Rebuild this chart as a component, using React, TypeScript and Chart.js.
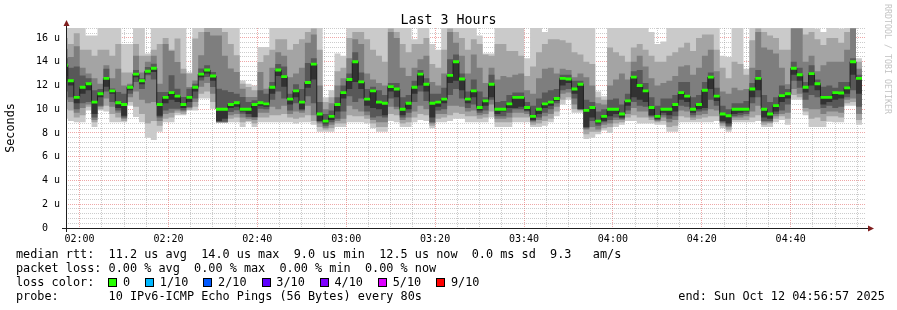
import React, { useEffect, useRef } from 'react';
import { Chart, registerables } from 'chart.js';

Chart.register(...registerables);

// ---------- data (seconds since window start 01:56:57, 80 s probe step) ----------
const WINDOW_START = '01:56:57';
const WINDOW_SPAN = 10800; // 3 hours
const STEP = 80;
const FIRST_OFFSET = -55; // first sample started before the window

// ping ranks (10 pings sorted), p6 == median
const p1 = [9.2,9.0,8.9,8.9,9.9,8.5,9.9,9.8,8.9,8.9, 8.9,10.3,9.35,8.9,7.6,7.4,8.1,8.9,8.9,9.5, 9.5,9.9,9.9,10.9,10.9,10.05,8.85,8.85,8.9,8.9, 8.5,8.9,8.5,8.9,8.9,8.9,8.9,8.9,8.9,8.8, 8.9,8.9,8.7,8.1,8.1,8.1,8.5,8.5,8.9,8.9, 8.9,8.8,8.4,8.1,8.1,9.0,8.9,8.5,8.5,8.9, 9.1,9.0,8.4,8.9,8.9,9.0,9.2,9.2,8.9,8.9, 8.9,8.9,9.3,8.5,8.5,8.5,8.9,8.9,8.9,8.5, 8.5,8.6,8.9,9.4,10.4,10.8,9.7,9.7,7.5,7.6, 7.9,8.2,8.0,8.5,8.7,9.0,9.0,8.8,8.8,8.8, 8.7,8.7,8.1,8.1,8.9,8.9,8.9,8.9,8.9,8.9, 9.0,8.4,8.1,8.9,8.9,8.9,8.9,9.0,8.5,8.5, 8.9,9.1,8.7,10.8,10.8,9.5,8.5,8.5,8.5,8.95, 8.9,8.9,10.3,10.3,8.7];
const p2 = [10.0,9.9,9.3,9.5,10.2,8.9,10.0,10.3,9.6,9.3, 9.0,10.6,10.2,9.6,8.8,9.0,8.6,9.2,9.3,9.7, 9.6,9.95,10.2,11.3,11.5,10.6,8.88,8.88,9.2,9.3, 8.9,9.0,8.8,9.3,9.3,9.5,9.5,9.6,9.3,9.2, 9.3,9.5,9.0,8.5,8.3,8.4,8.8,8.8,9.5,9.4, 9.4,9.2,8.8,8.5,8.5,9.6,9.5,8.8,8.9,9.3, 9.6,9.5,8.6,9.2,9.3,9.5,9.7,9.6,9.4,9.4, 9.2,9.3,9.8,8.9,8.9,8.9,9.3,9.3,9.3,8.7, 8.8,9.0,9.2,9.8,10.8,11.0,10.0,9.9,7.9,8.1, 8.1,8.4,8.5,8.8,8.9,9.3,9.5,9.3,9.3,9.1, 8.9,9.0,8.5,8.6,9.4,9.3,9.1,9.2,9.3,9.4, 9.4,8.6,8.3,9.1,9.1,9.1,9.3,9.5,8.7,8.8, 9.2,9.4,9.2,11.2,11.0,9.8,9.2,9.3,9.0,9.4, 9.4,9.3,10.5,10.6,9.1];
const p3 = [10.8,10.6,9.7,10.1,10.4,9.1,10.2,10.9,10.2,9.7, 9.2,11.0,11.5,10.8,10.5,10.6,9.0,9.6,9.7,9.9, 9.8,10.1,10.6,11.9,12.2,11.3,8.9,8.9,9.5,9.6, 9.3,9.2,9.1,9.7,9.7,10.2,10.0,10.3,9.6,9.8, 9.7,10.3,9.5,8.8,8.45,8.7,9.0,9.2,10.3,10.0, 9.8,9.5,9.1,8.9,8.9,10.2,10.0,9.1,9.3,9.8, 10.3,10.0,8.8,9.6,9.6,10.3,10.3,10.2,9.8,9.9, 9.5,9.6,10.4,9.2,9.2,9.3,9.7,9.7,9.6,8.9, 9.1,9.4,9.6,10.2,11.3,11.4,10.4,10.0,8.3,8.5, 8.3,8.7,8.8,9.1,9.1,9.6,10.1,9.8,9.8,9.3, 9.0,9.3,8.9,9.1,9.9,9.8,9.3,9.5,9.6,10.0, 9.9,8.8,8.5,9.3,9.3,9.4,9.8,10.3,8.9,8.9, 9.4,9.6,9.7,11.7,11.3,10.1,10.0,10.0,9.6,9.8, 9.8,9.7,10.8,10.9,9.6];
const p4 = [11.5,11.0,10.0,10.5,10.6,9.3,10.3,11.5,10.6,9.9, 9.3,11.3,12.3,11.7,12.86,12.5,9.3,9.9,10.05,10.05, 9.91,10.19,10.9,12.43,12.72,11.87,8.92,8.95,9.77,9.91, 9.63,9.34,9.3,10.05,10.0,10.8,11.5,10.9,9.9,10.5, 9.9,11.1,10.5,8.95,8.6,8.9,9.2,9.8,11.1,10.6, 10.9,9.8,9.3,9.4,9.3,10.9,10.2,9.3,9.7,10.6, 11.5,10.7,8.9,9.9,10.0,11.2,11.7,10.9,10.1,10.4, 9.7,9.9,10.8,9.4,9.4,9.7,10.0,10.0,9.8,9.0, 9.3,9.7,10.0,10.5,11.6,11.7,10.9,10.0,8.4,9.0, 8.6,8.9,9.1,9.3,9.2,9.9,10.6,10.3,10.2,9.4, 9.1,9.5,9.2,9.4,10.3,10.2,9.5,9.8,9.9,10.8, 10.3,8.9,8.6,9.4,9.5,9.6,10.5,11.0,9.0,9.0, 9.6,9.9,10.4,12.4,11.8,10.8,11.2,11.0,10.1,10.3, 10.1,10.2,11.0,11.6,10.2];
const p5 = [12.8,12.0,10.5,11.3,11.6,9.6,11.0,11.9,11.3,10.1, 9.45,11.6,12.7,12.1,13.0,13.14,9.45,10.5,10.8,10.6, 10.1,10.6,11.5,12.7,13.0,12.4,9.0,9.2,10.1,10.2, 9.8,9.6,9.34,10.3,10.2,11.3,12.8,11.9,10.4,11.0, 10.0,11.8,12.5,9.0,8.8,9.1,9.8,10.9,11.7,12.3, 11.7,10.3,10.1,10.0,9.5,11.5,11.0,9.5,10.0,11.3, 12.0,11.5,9.3,10.2,10.5,12.2,12.4,11.6,10.5,11.0, 9.9,10.3,11.0,9.6,9.8,10.1,10.1,10.2,9.9,9.1, 9.6,10.1,10.3,10.7,12.0,12.2,11.3,10.0,8.5,9.3, 8.8,9.0,9.4,9.6,9.3,10.3,11.0,10.8,10.6,9.5, 9.2,9.7,9.5,9.8,10.8,10.6,9.7,10.0,10.1,11.7, 10.7,9.0,8.8,9.6,9.7,9.8,11.0,11.6,9.3,9.2, 9.8,10.6,10.9,12.9,12.4,11.4,12.0,11.6,10.4,10.6, 10.8,10.9,11.3,12.9,11.3];
const median = [13.7,12.4,11.0,11.85,12.15,10.6,11.3,12.6,11.55,10.55, 10.4,11.85,12.95,12.4,13.2,13.45,10.4,11.0,11.4,11.1, 10.4,11.0,11.85,12.95,13.3,12.8,10.0,10.0,10.4,10.55, 10.0,10.0,10.4,10.55,10.45,11.85,13.3,12.75,10.85,11.55, 10.6,12.25,13.8,9.6,9.0,9.4,10.4,11.4,12.5,14.0, 12.3,10.85,11.55,10.6,10.5,11.9,11.7,10.0,10.5,11.85, 12.95,12.1,10.5,10.6,10.85,12.85,14.0,12.55,10.85,11.55, 10.15,10.7,12.1,10.0,10.0,10.45,11.0,11.0,10.15,9.4, 10.0,10.45,10.6,10.9,12.6,12.55,11.7,12.1,9.9,10.15, 9.0,9.4,10.0,10.0,9.6,10.7,12.7,12.0,11.55,10.15, 9.4,10.0,10.0,10.4,11.4,11.1,10.0,10.4,11.6,12.7, 11.1,9.6,9.45,10.0,10.0,10.0,11.7,12.6,10.0,9.6, 10.3,11.14,11.3,13.45,12.9,11.85,13.0,12.15,11.0,11.0, 11.4,11.37,11.8,14.0,12.6];
const p7 = [14.3,13.5,13.6,12.85,12.6,11.6,11.7,13.4,11.75,11.45, 11.3,12.0,13.3,12.6,13.56,13.84,11.45,11.45,12.86,11.73, 11.03,11.73,12.15,13.42,13.7,13.14,11.73,11.59,11.45,11.31, 11.03,10.61,10.75,11.59,11.31,12.3,13.8,13.6,11.3,12.1, 11.7,13.9,14.3,10.6,9.6,9.9,11.0,12.0,13.0,14.8, 13.1,11.7,11.9,11.6,11.2,12.2,12.2,11.0,11.2,12.4, 13.3,12.6,11.3,11.3,11.8,14.2,14.6,13.0,11.5,12.5, 11.5,11.0,12.9,10.6,10.7,11.2,11.4,11.4,10.6,10.3, 10.9,11.4,11.6,11.7,12.9,12.9,12.4,12.4,10.8,10.6, 9.8,10.0,10.8,10.9,10.4,11.3,13.2,13.3,12.2,11.0, 10.3,10.9,10.9,11.2,12.3,12.3,11.0,11.2,12.3,13.1, 11.8,10.3,10.0,10.5,10.5,10.7,12.2,13.3,11.2,10.6, 11.0,12.0,11.7,14.0,13.5,12.3,13.7,12.5,11.9,12.0, 11.8,12.3,12.3,14.3,12.9];
const p8 = [15.1,14.4,15.3,13.5,13.0,12.6,12.15,13.7,12.6,13.4, 12.0,12.15,14.5,13.1,14.0,14.5,12.15,15.5,14.9,13.98, 13.0,11.87,12.43,14.54,16.5,16.2,16.2,14.5,13.42,13.14, 11.73,11.03,11.03,13.14,11.73,13.5,14.8,14.5,12.7,13.0, 13.5,15.6,16.3,12.0,10.0,10.5,12.0,12.6,14.3,15.9, 15.5,13.0,12.5,12.2,12.0,16.5,16.0,13.5,12.8,13.5, 14.2,14.5,12.3,12.0,13.0,16.5,15.6,14.5,13.0,14.6, 13.5,12.2,13.5,12.5,12.8,12.7,12.9,13.0,11.6,11.3, 12.6,13.4,13.5,13.0,13.4,13.3,12.7,13.0,12.7,12.0, 10.5,10.4,12.0,12.5,13.0,12.5,14.0,14.5,13.6,12.6, 12.0,12.2,12.4,12.8,13.6,13.7,12.9,13.5,14.5,15.0, 13.2,11.5,11.3,11.8,11.6,11.7,13.5,16.5,15.2,15.0, 14.7,13.5,12.1,16.8,16.8,14.0,14.5,13.2,13.7,14.0, 14.0,14.0,15.0,16.8,13.4];
const p9 = [16.0,15.5,16.4,15.0,15.0,14.5,15.0,15.0,14.5,15.5, 13.1,13.1,15.5,14.5,14.5,15.0,15.5,16.0,15.0,15.95, 13.4,13.0,15.95,16.5,16.85,16.85,16.85,16.5,15.5,14.54, 12.15,11.87,11.6,13.98,14.54,15.0,15.9,15.9,15.0,15.5, 15.9,16.5,16.8,15.0,10.6,11.0,13.2,13.5,16.0,16.5, 16.5,15.9,15.0,14.5,14.0,16.8,16.5,15.5,14.8,15.5, 15.5,16.0,13.8,13.5,15.0,16.8,16.5,16.0,15.0,15.9, 15.5,14.6,14.5,15.5,15.5,14.9,14.9,14.5,12.8,13.6, 14.8,15.5,15.9,15.9,15.8,15.6,14.8,14.6,14.0,13.8, 11.0,10.8,15.2,14.8,14.5,14.0,15.2,15.5,15.0,14.5, 14.0,14.0,14.5,14.8,15.2,15.6,14.9,16.0,16.3,16.3, 15.0,13.5,12.6,14.0,13.8,12.9,15.8,16.8,16.5,16.2, 16.0,15.0,15.0,16.85,16.85,16.3,16.5,15.9,15.4,16.0, 16.0,15.6,16.5,16.85,14.0];
const p10 = [16.9,16.9,16.9,16.9,16.2,16.2,16.9,16.9,16.9,16.9, 15.5,15.5,16.9,16.9,14.7,16.9,16.9,16.9,16.9,16.9, 16.9,13.1,16.9,16.9,16.9,16.9,16.9,16.9,16.9,16.9, 12.43,12.15,12.0,15.24,15.24,16.9,16.9,16.9,16.9,16.9, 16.9,16.9,16.9,16.9,11.0,11.6,14.7,14.5,16.9,16.9, 16.9,16.9,16.9,16.9,16.9,16.9,16.9,16.9,16.9,15.9, 16.9,16.9,15.5,15.0,16.9,16.9,16.9,16.9,16.9,16.9, 16.2,14.7,14.7,16.9,16.9,16.9,16.9,16.9,14.3,16.9, 16.9,16.5,16.9,16.9,16.9,16.9,16.9,16.9,16.9,16.9, 11.5,11.1,16.9,16.9,16.9,16.9,16.9,16.9,16.9,16.5, 15.5,15.7,16.9,16.9,16.9,16.9,16.9,16.9,16.9,16.9, 16.9,14.5,14.4,16.9,16.9,13.4,16.9,16.9,16.9,16.9, 16.9,16.9,16.9,16.9,16.9,16.9,16.9,16.8,16.5,16.9, 16.9,16.8,16.9,16.9,14.3];

// ---------- axis / tick labels ----------
const xMajorLabels = ['02:00', '02:20', '02:40', '03:00', '03:20', '03:40', '04:00', '04:20', '04:40'];
const yMax = 16.84;
const yMinorStep = 0.4;
const yMajorStep = 2;
const yUnit = 'u';

// ---------- legend ----------
const rttStats = { avg: '11.2', max: '14.0', min: '9.0', now: '12.5', sd: '0.0', am: '9.3' };
const lossStats = { avg: '0.00', max: '0.00', min: '0.00', now: '0.00' };
const lossLegend: [string, string][] = [
  ['0', '#26ff00'], ['1/10', '#00b8ff'], ['2/10', '#0059ff'], ['3/10', '#5e00ff'],
  ['4/10', '#7e00ff'], ['5/10', '#dd00ff'], ['9/10', '#ff0000'],
];
const probeText = '10 IPv6-ICMP Echo Pings (56 Bytes) every 80s';
const endText = 'Sun Oct 12 04:56:57 2025';
const titleText = 'Last 3 Hours';
const yTitle = 'Seconds';
const watermark = 'RRDTOOL / TOBI OETIKER';

const MONO = '"DejaVu Sans Mono", "Liberation Mono", monospace';
const SMOKE = ['#cacaca', '#a4a4a4', '#7e7e7e', '#585858', '#323232'];
const LOSS0 = lossLegend[0][1];

const toSec = (s: string) => {
  const [h, m, sec] = s.split(':').map(Number);
  return h * 3600 + m * 60 + (sec || 0);
};
const startSec = toSec(WINDOW_START);
const times = median.map((_, i) => Math.max(0, FIRST_OFFSET + STEP * i));
const END_T = FIRST_OFFSET + STEP * median.length;

const series = (arr: number[]) => {
  const pts = arr.map((v, i) => ({ x: times[i], y: v }));
  pts.push({ x: END_T, y: arr[arr.length - 1] });
  return pts;
};

const GREEN_HALF = 0.12;

function buildConfig(): any {
  const lows = [p1, p2, p3, p4, p5];
  const highs = [p10, p9, p8, p7, median];
  const datasets: any[] = [];
  lows.forEach((lo, b) => {
    const ord = 60 - b * 10;
    datasets.push({
      data: series(lo), stepped: true, borderWidth: 0, borderColor: 'rgba(0,0,0,0)',
      pointRadius: 0, fill: false, order: ord,
    });
    datasets.push({
      data: series(highs[b]), stepped: true, borderWidth: 0, borderColor: 'rgba(0,0,0,0)',
      pointRadius: 0, fill: '-1', backgroundColor: SMOKE[b], order: ord,
    });
  });
  datasets.push({
    data: series(median), stepped: true, borderWidth: 1, borderColor: '#202020',
    pointRadius: 0, fill: false, order: 5,
  });
  datasets.push({
    data: series(median.map((v) => v - GREEN_HALF)), stepped: true, borderWidth: 0,
    borderColor: 'rgba(0,0,0,0)', pointRadius: 0, fill: false, order: 0,
  });
  datasets.push({
    data: series(median.map((v) => v + GREEN_HALF)), stepped: true, borderWidth: 0,
    borderColor: 'rgba(0,0,0,0)', pointRadius: 0, fill: '-1', backgroundColor: LOSS0, order: 0,
  });

  const firstMajor = toSec(xMajorLabels[0]) - startSec;
  const isXMajor = (v: number) => Math.abs(((v - firstMajor) % 1200)) < 1e-6;
  const isYMajor = (v: number) => Math.abs(v / yMajorStep - Math.round(v / yMajorStep)) < 1e-6;
  const MAJOR = 'rgba(222,79,79,0.5)';
  const MINOR = 'rgba(143,143,143,0.45)';

  const axesPlugin = {
    id: 'rrdAxes',
    afterDraw(chart: any) {
      const { ctx, chartArea: a } = chart;
      ctx.save();
      ctx.strokeStyle = 'rgb(31,31,31)';
      ctx.lineWidth = 1;
      ctx.beginPath();
      ctx.moveTo(a.left - 4, a.bottom + 0.5);
      ctx.lineTo(a.right + 3, a.bottom + 0.5);
      ctx.moveTo(a.left + 0.5, a.bottom + 4);
      ctx.lineTo(a.left + 0.5, a.top - 4);
      ctx.stroke();
      ctx.fillStyle = 'rgb(128,31,31)';
      ctx.beginPath();
      ctx.moveTo(a.right + 8, a.bottom + 0.5);
      ctx.lineTo(a.right + 2, a.bottom - 2.5);
      ctx.lineTo(a.right + 2, a.bottom + 3.5);
      ctx.closePath();
      ctx.fill();
      ctx.beginPath();
      ctx.moveTo(a.left + 0.5, a.top - 8);
      ctx.lineTo(a.left - 2.5, a.top - 2);
      ctx.lineTo(a.left + 3.5, a.top - 2);
      ctx.closePath();
      ctx.fill();
      ctx.restore();
    },
  };

  return {
    type: 'line',
    data: { datasets },
    plugins: [axesPlugin],
    options: {
      animation: false,
      responsive: false,
      devicePixelRatio: 1,
      events: [],
      layout: { padding: { left: 0, top: 28, right: 31, bottom: 0 } },
      plugins: { legend: { display: false }, tooltip: { enabled: false }, title: { display: false } },
      scales: {
        x: {
          type: 'linear',
          min: 0,
          max: WINDOW_SPAN,
          z: 1,
          afterFit: (s: any) => { s.height = 82; },
          afterBuildTicks: (s: any) => {
            const t: any[] = [];
            for (let v = firstMajor; v <= WINDOW_SPAN; v += 300) t.push({ value: v });
            s.ticks = t;
          },
          ticks: {
            autoSkip: false,
            maxRotation: 0,
            minRotation: 0,
            padding: 5,
            color: '#000',
            font: { family: MONO, size: 10 },
            callback: (v: number) => {
              if (!isXMajor(v)) return '';
              const idx = Math.round((v - firstMajor) / 1200);
              return xMajorLabels[idx] ?? '';
            },
          },
          grid: {
            drawTicks: false,
            lineWidth: 1,
            color: (c: any) => (c.tick ? (isXMajor(c.tick.value) ? MAJOR : MINOR) : 'rgba(0,0,0,0)'),
          },
          border: { display: false, dash: [1, 1] },
        },
        y: {
          type: 'linear',
          min: 0,
          max: yMax,
          z: 1,
          afterFit: (s: any) => { s.width = 66; },
          afterBuildTicks: (s: any) => {
            const t: any[] = [];
            for (let k = 0; k * yMinorStep <= yMax + 1e-9; k++) t.push({ value: Math.round(k * yMinorStep * 10) / 10 });
            s.ticks = t;
          },
          title: {
            display: true,
            text: yTitle,
            color: '#000',
            font: { family: MONO, size: 11.8 },
            padding: { top: 4, bottom: 0 },
          },
          ticks: {
            autoSkip: false,
            padding: 6,
            color: '#000',
            font: { family: MONO, size: 10 },
            callback: (v: number) => {
              if (!isYMajor(v)) return '';
              return v === 0 ? '0  ' : `${v} ${yUnit}`;
            },
          },
          grid: {
            drawTicks: false,
            lineWidth: 1,
            color: (c: any) => (c.tick ? (isYMajor(c.tick.value) ? MAJOR : MINOR) : 'rgba(0,0,0,0)'),
          },
          border: { display: false, dash: [1, 1] },
        },
      },
    },
  };
}

const CH = 7.13; // monospace advance at 11.84px

export default function App() {
  const ref = useRef<HTMLCanvasElement | null>(null);
  useEffect(() => {
    if (!ref.current) return;
    const chart = new Chart(ref.current, buildConfig());
    return () => chart.destroy();
  }, []);

  const rowStyle = (top: number): React.CSSProperties => ({
    position: 'absolute', left: 16, top, fontSize: 11.84, lineHeight: '14px', whiteSpace: 'pre', color: '#000',
  });

  const row1 = `median rtt:  ${rttStats.avg} us avg  ${rttStats.max} us max  ${rttStats.min} us min  ${rttStats.now} us now  ${rttStats.sd} ms sd  ${rttStats.am}   am/s`;
  const row2 = `packet loss: ${lossStats.avg} % avg  ${lossStats.max} % max  ${lossStats.min} % min  ${lossStats.now} % now`;

  const lossItems: React.ReactNode[] = [];
  let x = 108.3;
  lossLegend.forEach(([label, color]) => {
    lossItems.push(
      <div key={'b' + label} style={{ position: 'absolute', left: x, top: 277.7, width: 9, height: 9, boxSizing: 'border-box', border: '1px solid #000', background: color }} />
    );
    const lx = x + 14.7;
    lossItems.push(
      <div key={'t' + label} style={{ position: 'absolute', left: lx, top: 275.2, fontSize: 11.84, lineHeight: '14px', whiteSpace: 'pre' }}>{label}</div>
    );
    x = lx + label.length * CH + 15;
  });

  return (
    <div style={{ position: 'absolute', left: 0, top: 0, width: 897, height: 310, background: '#fff', overflow: 'hidden', fontFamily: MONO }}>
      <canvas ref={ref} width={897} height={310} style={{ position: 'absolute', left: 0, top: 0, width: 897, height: 310 }} />
      <div style={{ position: 'absolute', left: 0, top: 12, width: 897, textAlign: 'center', fontSize: 13.3, lineHeight: '16px', whiteSpace: 'pre' }}>{titleText}</div>
      <div style={{ position: 'absolute', left: 893, top: 4, transformOrigin: '0 0', transform: 'rotate(90deg)', fontSize: 8.3, lineHeight: '10px', whiteSpace: 'pre', color: '#c4c4c4' }}>{watermark}</div>
      <div style={rowStyle(247.2)}>{row1}</div>
      <div style={rowStyle(261.2)}>{row2}</div>
      <div style={rowStyle(275.2)}>{'loss color:'}</div>
      {lossItems}
      <div style={rowStyle(289.2)}>{`probe:       ${probeText}`}</div>
      <div style={{ ...rowStyle(289.2), left: 678.3 }}>{`end: ${endText}`}</div>
    </div>
  );
}
